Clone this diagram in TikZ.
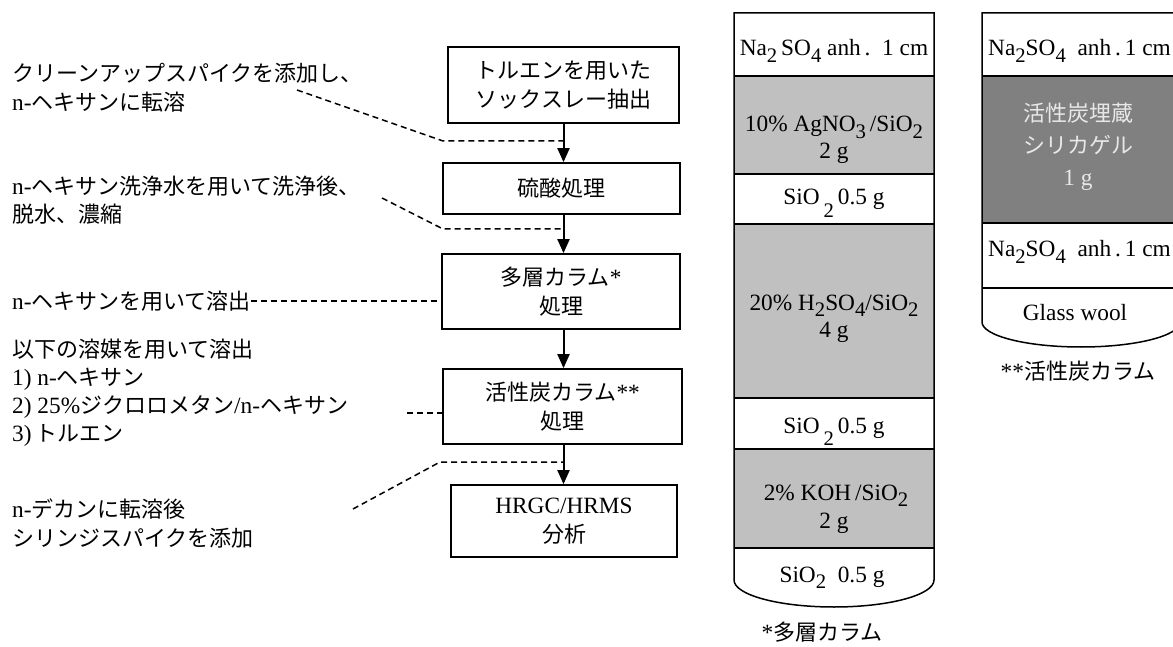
\documentclass[tikz,border=0pt]{standalone}
\usepackage{fontspec}
\setmainfont{Liberation Serif}[Scale=1.06]
\newfontfamily\jpf{Noto Sans CJK JP}
\usetikzlibrary{arrows.meta}
\newcommand\J[1]{{\jpf #1}}
\newcommand\sbs[1]{\raisebox{-0.3em}{\fontsize{19.5}{19.5}\selectfont #1}}
\newcommand\sbl[1]{\raisebox{-0.55em}{\fontsize{19.5}{19.5}\selectfont #1}}
\definecolor{lg}{RGB}{192,192,192}
\definecolor{dg}{RGB}{128,128,128}
\definecolor{dtxt}{RGB}{232,232,232}
\begin{document}
\begin{tikzpicture}[x=1pt,y=-1pt,
  every node/.style={font=\fontsize{22}{28}\selectfont, inner sep=0pt},
  procbox/.style={draw, line width=1.7pt, align=center, font=\fontsize{22}{29}\selectfont},
  flow/.style={line width=2pt,-{Triangle[length=14pt,width=12pt]}},
  dashline/.style={line width=1.5pt, dash pattern=on 6pt off 4pt},
  note/.style={anchor=west, align=left},
  colline/.style={line width=1.5pt},
  sepline/.style={line width=1.3pt},
  layertxt/.style={anchor=base},
]
\useasboundingbox (0,0) rectangle (1173,647);
\clip (0,0) rectangle (1173,647);

% ---------- process boxes ----------
\node[procbox, minimum width=231pt, minimum height=76pt] (b1) at (563.5,85)
  {\J{トルエンを用いた}\\\J{ソックスレー抽出}};
\node[procbox, minimum width=237pt, minimum height=51pt] (b2) at (561.5,188.5)
  {\J{硫酸処理}};
\node[procbox, minimum width=238pt, minimum height=75pt] (b3) at (561,291.5)
  {\J{多層カラム}*\\\J{処理}};
\node[procbox, minimum width=239pt, minimum height=75pt] (b4) at (562.5,406.5)
  {\J{活性炭カラム}**\\\J{処理}};
\node[procbox, minimum width=226pt, minimum height=72pt] (b5) at (564,521)
  {HRGC/HRMS\\\J{分析}};

\draw[flow] (b1.south) -- (b1.south |- b2.north);
\draw[flow] (b1.south |- b2.south) -- (b1.south |- b3.north);
\draw[flow] (b1.south |- b3.south) -- (b1.south |- b4.north);
\draw[flow] (b1.south |- b4.south) -- (b1.south |- b5.north);

% ---------- annotations ----------
\node[note, font=\fontsize{22}{29}\selectfont] (a1) at (12,87.5)
  {\J{クリーンアップスパイクを添加し、}\\n-\J{ヘキサンに転溶}};
\node[note] (a2) at (12,200)
  {n-\J{ヘキサン洗浄水を用いて洗浄後、}\\\J{脱水、濃縮}};
\node[note] (a3) at (12,301)
  {n-\J{ヘキサンを用いて溶出}};
\node[note, font=\fontsize{22}{28}\selectfont] (a4) at (12,393)
  {\J{以下の溶媒を用いて溶出}\\1) n-\J{ヘキサン}\\2) 25\%\J{ジクロロメタン}/n-\J{ヘキサン}\\3)\,\J{トルエン}};
\node[note, font=\fontsize{22}{29}\selectfont] (a5) at (12,523.5)
  {n-\J{デカンに転溶後}\\\J{シリンジスパイクを添加}};

% dashed leaders
\coordinate (s1) at (297,90);   \coordinate (k1) at (443,141); \coordinate (y1) at (0,141);
\coordinate (s2) at (382,198);  \coordinate (k2) at (443,229); \coordinate (y2) at (0,229);
\coordinate (s4) at (407,413);
\coordinate (s5) at (353,509);  \coordinate (k5) at (440,462); \coordinate (y5) at (0,462);
\draw[dashline] (s1) -- (k1) -- (b1.south |- y1);
\draw[dashline] (s2) -- (k2) -- (b1.south |- y2);
\draw[dashline] (a3.east) -- (a3.east -| b3.west);
\draw[dashline] (s4) -- (s4 -| b4.west);
\draw[dashline] (s5) -- (k5) -- (b1.south |- y5);

% ---------- multilayer column ----------
\fill[lg] (734,76) rectangle (934,174);
\fill[lg] (734,224) rectangle (934,398);
\fill[lg] (734,449) rectangle (934,548);
\foreach \yy in {76,174,224,398,449,548}
  \draw[sepline] (734,\yy) -- (934,\yy);
\draw[colline] (734,13) -- (734,580) .. controls (734,594.9) and (778.8,607) .. (834,607)
  .. controls (889.2,607) and (934,594.9) .. (934,580) -- (934,13) -- cycle;

\node[layertxt] (t11) at (834,56) {Na\sbs{2}\,SO\sbs{4}\ anh\,.\ \ 1 cm};
\node[layertxt] (t12) at (834,132) {10\% AgNO\sbs{3}\,/SiO\sbs{2}};
\node[layertxt] (t13) at (834,159) {2 g};
\node[layertxt] (t14) at (834,205) {SiO\,\sbl{2}\,0.5 g};
\node[layertxt] (t15) at (834,310) {20\% H\sbs{2}SO\sbs{4}/SiO\sbs{2}};
\node[layertxt] (t16) at (834,337) {4 g};
\node[layertxt] (t17) at (834,433) {SiO\,\sbl{2}\,0.5 g};
\node[layertxt] (t18) at (836,500) {2\% KOH\,/SiO\sbs{2}};
\node[layertxt] (t19) at (834,528) {2 g};
\node[layertxt] (t1a) at (832,582) {SiO\sbs{2}\ \ 0.5 g};
\node (c1) at (822,632) {*\J{多層カラム}};

% ---------- activated carbon column ----------
\fill[dg] (982,76) rectangle (1180,223);
\foreach \yy in {76,223,288}
  \draw[sepline] (982,\yy) -- (1180,\yy);
\draw[colline] (982,13) -- (982,322) .. controls (982,335.8) and (1026.4,347) .. (1081,347)
  .. controls (1135.6,347) and (1180,335.8) .. (1180,322) -- (1180,13) -- cycle;

\node[anchor=base west] (t21) at (988,56) {Na\sbs{2}SO\sbs{4}\ \ anh\,.\,1 cm};
\node[align=center, text=dtxt, font=\fontsize{22}{32}\selectfont] (t22) at (1078,147)
  {\J{活性炭埋蔵}\\\J{シリカゲル}\\1 g};
\node[anchor=base west] (t23) at (988,257) {Na\sbs{2}SO\sbs{4}\ \ anh\,.\,1 cm};
\node[layertxt] (t24) at (1075,320) {Glass wool};
\node (c2) at (1078,371) {**\J{活性炭カラム}};
\end{tikzpicture}
\end{document}
